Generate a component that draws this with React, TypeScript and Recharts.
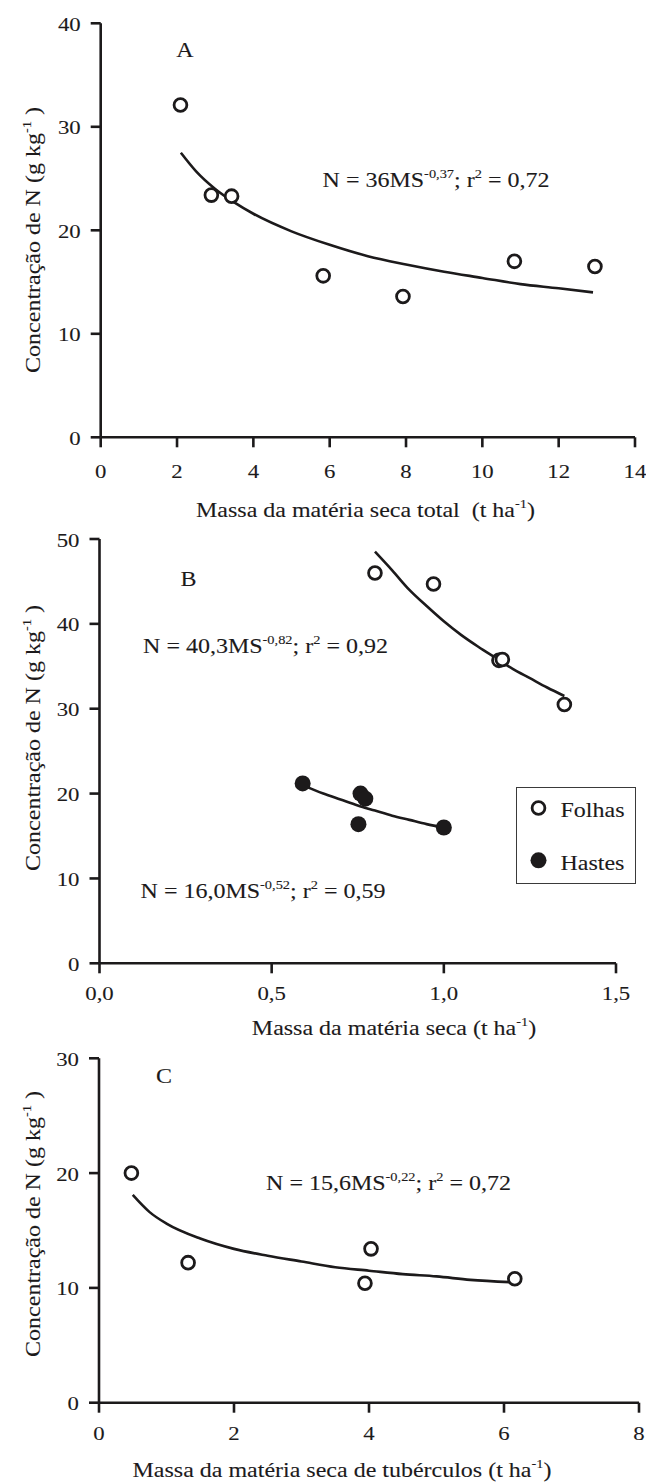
import React from 'react';
import { ComposedChart, Scatter, Line, XAxis, YAxis, Legend } from 'recharts';

const FONT = "'Liberation Serif','Times New Roman',serif";
const INK = '#1c1a1b';
const SX = 1.2;

// ---------- Panel A ----------
const aTicksX = [0, 2, 4, 6, 8, 10, 12, 14];
const aTicksY = [0, 10, 20, 30, 40];
const aPointsX = [2.09, 2.9, 3.43, 5.83, 7.92, 10.84, 12.95];
const aPointsY = [32.1, 23.4, 23.3, 15.6, 13.6, 17.0, 16.5];
const aCurveX = [2.1, 2.5, 3, 3.5, 4, 5, 6, 7, 8, 9, 10, 11, 12, 12.9];
const aCurveY = [27.5, 25.7, 24.0, 22.7, 21.6, 19.9, 18.6, 17.5, 16.7, 16.0, 15.4, 14.8, 14.4, 14.0];

// ---------- Panel B ----------
const bTicksX = [0, 0.5, 1, 1.5];
const bTicksY = [0, 10, 20, 30, 40, 50];
const bSeriesNames = ['Folhas', 'Hastes'];
const bLeavesX = [0.8, 0.97, 1.16, 1.17, 1.35];
const bLeavesY = [46.0, 44.7, 35.7, 35.8, 30.5];
const bStemsX = [0.59, 0.758, 0.772, 0.752, 1.0];
const bStemsY = [21.2, 20.0, 19.4, 16.4, 16.0];
const bLeavesCurveX = [0.8, 0.85, 0.9, 0.95, 1.0, 1.05, 1.1, 1.15, 1.2, 1.25, 1.3, 1.35];
const bLeavesCurveY = [48.5, 46.3, 44.0, 42.1, 40.3, 38.7, 37.3, 36.0, 34.7, 33.6, 32.5, 31.5];
const bStemsCurveX = [0.59, 0.65, 0.7, 0.75, 0.8, 0.85, 0.9, 0.95, 1.0];
const bStemsCurveY = [21.0, 20.0, 19.3, 18.6, 18.0, 17.4, 16.9, 16.4, 16.0];

// ---------- Panel C ----------
const cTicksX = [0, 2, 4, 6, 8];
const cTicksY = [0, 10, 20, 30];
const cPointsX = [0.48, 1.32, 4.03, 3.94, 6.16];
const cPointsY = [20.0, 12.2, 13.4, 10.4, 10.8];
const cCurveX = [0.5, 0.75, 1, 1.5, 2, 2.5, 3, 3.5, 4, 4.5, 5, 5.5, 6.1];
const cCurveY = [18.1, 16.6, 15.6, 14.3, 13.4, 12.8, 12.3, 11.8, 11.5, 11.2, 11.0, 10.7, 10.5];

// ---------- Texts ----------
const yLabelMain = 'Concentração de N (g kg';
const xTitles = ['Massa da matéria seca total  (t ha', 'Massa da matéria seca (t ha', 'Massa da matéria seca de tubérculos (t ha'];
const panelLetters = ['A', 'B', 'C'];
const equations = [
  { coef: 'N = 36MS', exp: '-0,37', r2: '0,72' },
  { coef: 'N = 40,3MS', exp: '-0,82', r2: '0,92' },
  { coef: 'N = 16,0MS', exp: '-0,52', r2: '0,59' },
  { coef: 'N = 15,6MS', exp: '-0,22', r2: '0,72' },
];

const zip = (xs: number[], ys: number[]) => xs.map((x, i) => ({ x, y: ys[i] }));

function Txt({ x, y, anchor = 'middle', size = 20, rotate = 0, children }: any) {
  const t = `translate(${x},${y})` + (rotate ? ` rotate(${rotate})` : '') + ` scale(${SX},1)`;
  return (
    <text transform={t} textAnchor={anchor} fontFamily={FONT} fontSize={size} fill={INK}
      stroke={INK} strokeWidth={0.1} style={{ whiteSpace: 'pre' }}>
      {children}
    </text>
  );
}

function Equation({ x, y, eq }: any) {
  return (
    <Txt x={x} y={y}>
      {eq.coef}
      <tspan dy={-9} fontSize={12}>{eq.exp}</tspan>
      <tspan dy={9}>; r</tspan>
      <tspan dy={-9} fontSize={12}>2</tspan>
      <tspan dy={9}>{' = ' + eq.r2}</tspan>
    </Txt>
  );
}

function Title({ x, y, text }: any) {
  return (
    <Txt x={x} y={y}>
      {text}
      <tspan dy={-9} fontSize={12}>-1</tspan>
      <tspan dy={9}>)</tspan>
    </Txt>
  );
}

function YLabel({ x, y }: any) {
  return (
    <Txt x={x} y={y} rotate={-90}>
      {yLabelMain}
      <tspan dy={-9} fontSize={12}>-1</tspan>
      <tspan dy={9}>{' )'}</tspan>
    </Txt>
  );
}

const OpenDot = (p: any) => <circle cx={p.cx} cy={p.cy} r={6.4} fill="#fff" stroke={INK} strokeWidth={2.8} />;
const FilledDot = (p: any) => <circle cx={p.cx} cy={p.cy} r={8} fill={INK} />;

const fmtInt = (v: number) => String(v);
const fmtComma = (v: number) => v.toFixed(1).replace('.', ',');

const makeXTick = (dy: number, fmt: (v: number) => string) => (p: any) => (
  <Txt x={p.x} y={p.y + dy} size={19}>{fmt(p.payload.value)}</Txt>
);
const yTick = (p: any) => (
  <Txt x={p.x - 10} y={p.y + 7.5} anchor="end" size={19}>{String(p.payload.value)}</Txt>
);

const axisLine = { stroke: INK, strokeWidth: 2.6 };

function LegendBox() {
  return (
    <svg width={121} height={98} style={{ display: 'block' }}>
      <rect x={0.5} y={0.5} width={119} height={96} fill="#fff" stroke="#3a3a3a" strokeWidth={1} />
      <circle cx={22.5} cy={21} r={6.4} fill="#fff" stroke={INK} strokeWidth={2.8} />
      <Txt x={44.5} y={30.3} anchor="start">{bSeriesNames[0]}</Txt>
      <circle cx={22.5} cy={73.3} r={8} fill={INK} />
      <Txt x={44.5} y={83.3} anchor="start">{bSeriesNames[1]}</Txt>
    </svg>
  );
}

function Panel({ top, height, left, right, ptop, pbottom, xDomain, xTicks, yDomain, yTicks, xFmt, xDy, children }: any) {
  const xh = 40;
  return (
    <div style={{ position: 'absolute', left: 0, top, width: 646, height }}>
      <ComposedChart
        width={646}
        height={height}
        margin={{ top: ptop - top, right: 646 - right, left: 0, bottom: height - (pbottom - top) - xh }}
      >
        <XAxis
          type="number"
          dataKey="x"
          domain={xDomain}
          ticks={xTicks}
          interval={0}
          allowDataOverflow
          height={xh}
          tickSize={10}
          tickMargin={0}
          axisLine={axisLine}
          tickLine={axisLine}
          tick={makeXTick(xDy, xFmt)}
        />
        <YAxis
          type="number"
          domain={yDomain}
          ticks={yTicks}
          interval={0}
          allowDataOverflow
          width={left}
          tickSize={10}
          tickMargin={0}
          axisLine={axisLine}
          tickLine={axisLine}
          tick={yTick}
        />
        {children}
      </ComposedChart>
    </div>
  );
}

export default function App() {
  return (
    <div style={{ position: 'absolute', left: 0, top: 0, width: 646, height: 1483, background: '#fff', overflow: 'hidden' }}>
      {/* Panel A */}
      <Panel top={0} height={520} left={100.7} right={635} ptop={23.3} pbottom={437.3}
        xDomain={[0, 14]} xTicks={aTicksX} yDomain={[0, 40]} yTicks={aTicksY} xFmt={fmtInt} xDy={30.5}>
        <Line data={zip(aCurveX, aCurveY)} dataKey="y" type="monotone" stroke={INK} strokeWidth={2.6} dot={false} isAnimationActive={false} legendType="none" />
        <Scatter data={zip(aPointsX, aPointsY)} dataKey="y" shape={OpenDot} isAnimationActive={false} legendType="none" />
      </Panel>

      {/* Panel B */}
      <Panel top={520} height={520} left={99.5} right={616} ptop={539} pbottom={963.3}
        xDomain={[0, 1.5]} xTicks={bTicksX} yDomain={[0, 50]} yTicks={bTicksY} xFmt={fmtComma} xDy={26.7}>
        <Line data={zip(bLeavesCurveX, bLeavesCurveY)} dataKey="y" type="monotone" stroke={INK} strokeWidth={2.6} dot={false} isAnimationActive={false} legendType="none" />
        <Line data={zip(bStemsCurveX, bStemsCurveY)} dataKey="y" type="monotone" stroke={INK} strokeWidth={2.6} dot={false} isAnimationActive={false} legendType="none" />
        <Scatter name={bSeriesNames[0]} data={zip(bLeavesX, bLeavesY)} dataKey="y" shape={OpenDot} isAnimationActive={false} />
        <Scatter name={bSeriesNames[1]} data={zip(bStemsX, bStemsY)} dataKey="y" shape={FilledDot} isAnimationActive={false} />
        <Legend
          layout="horizontal"
          verticalAlign="middle"
          align="center"
          wrapperStyle={{ position: 'absolute', left: 516, top: 786.5 - 520, width: 121, height: 98 }}
          content={() => <LegendBox />}
        />
      </Panel>

      {/* Panel C */}
      <Panel top={1040} height={443} left={99} right={639} ptop={1058.3} pbottom={1402.7}
        xDomain={[0, 8]} xTicks={cTicksX} yDomain={[0, 30]} yTicks={cTicksY} xFmt={fmtInt} xDy={27.3}>
        <Line data={zip(cCurveX, cCurveY)} dataKey="y" type="monotone" stroke={INK} strokeWidth={2.6} dot={false} isAnimationActive={false} legendType="none" />
        <Scatter data={zip(cPointsX, cPointsY)} dataKey="y" shape={OpenDot} isAnimationActive={false} legendType="none" />
      </Panel>

      {/* Annotations */}
      <svg width={646} height={1483} style={{ position: 'absolute', left: 0, top: 0, pointerEvents: 'none' }}>
        <YLabel x={40} y={240} />
        <YLabel x={40} y={738} />
        <YLabel x={40} y={1224} />
        <Txt x={185} y={57}>{panelLetters[0]}</Txt>
        <Txt x={188.6} y={586}>{panelLetters[1]}</Txt>
        <Txt x={164} y={1083}>{panelLetters[2]}</Txt>
        <Equation x={436} y={187} eq={equations[0]} />
        <Equation x={265.5} y={653} eq={equations[1]} />
        <Equation x={263} y={898} eq={equations[2]} />
        <Equation x={388.5} y={1190} eq={equations[3]} />
        <Title x={365.5} y={517} text={xTitles[0]} />
        <Title x={394} y={1035} text={xTitles[1]} />
        <Title x={342} y={1477} text={xTitles[2]} />
      </svg>
    </div>
  );
}
